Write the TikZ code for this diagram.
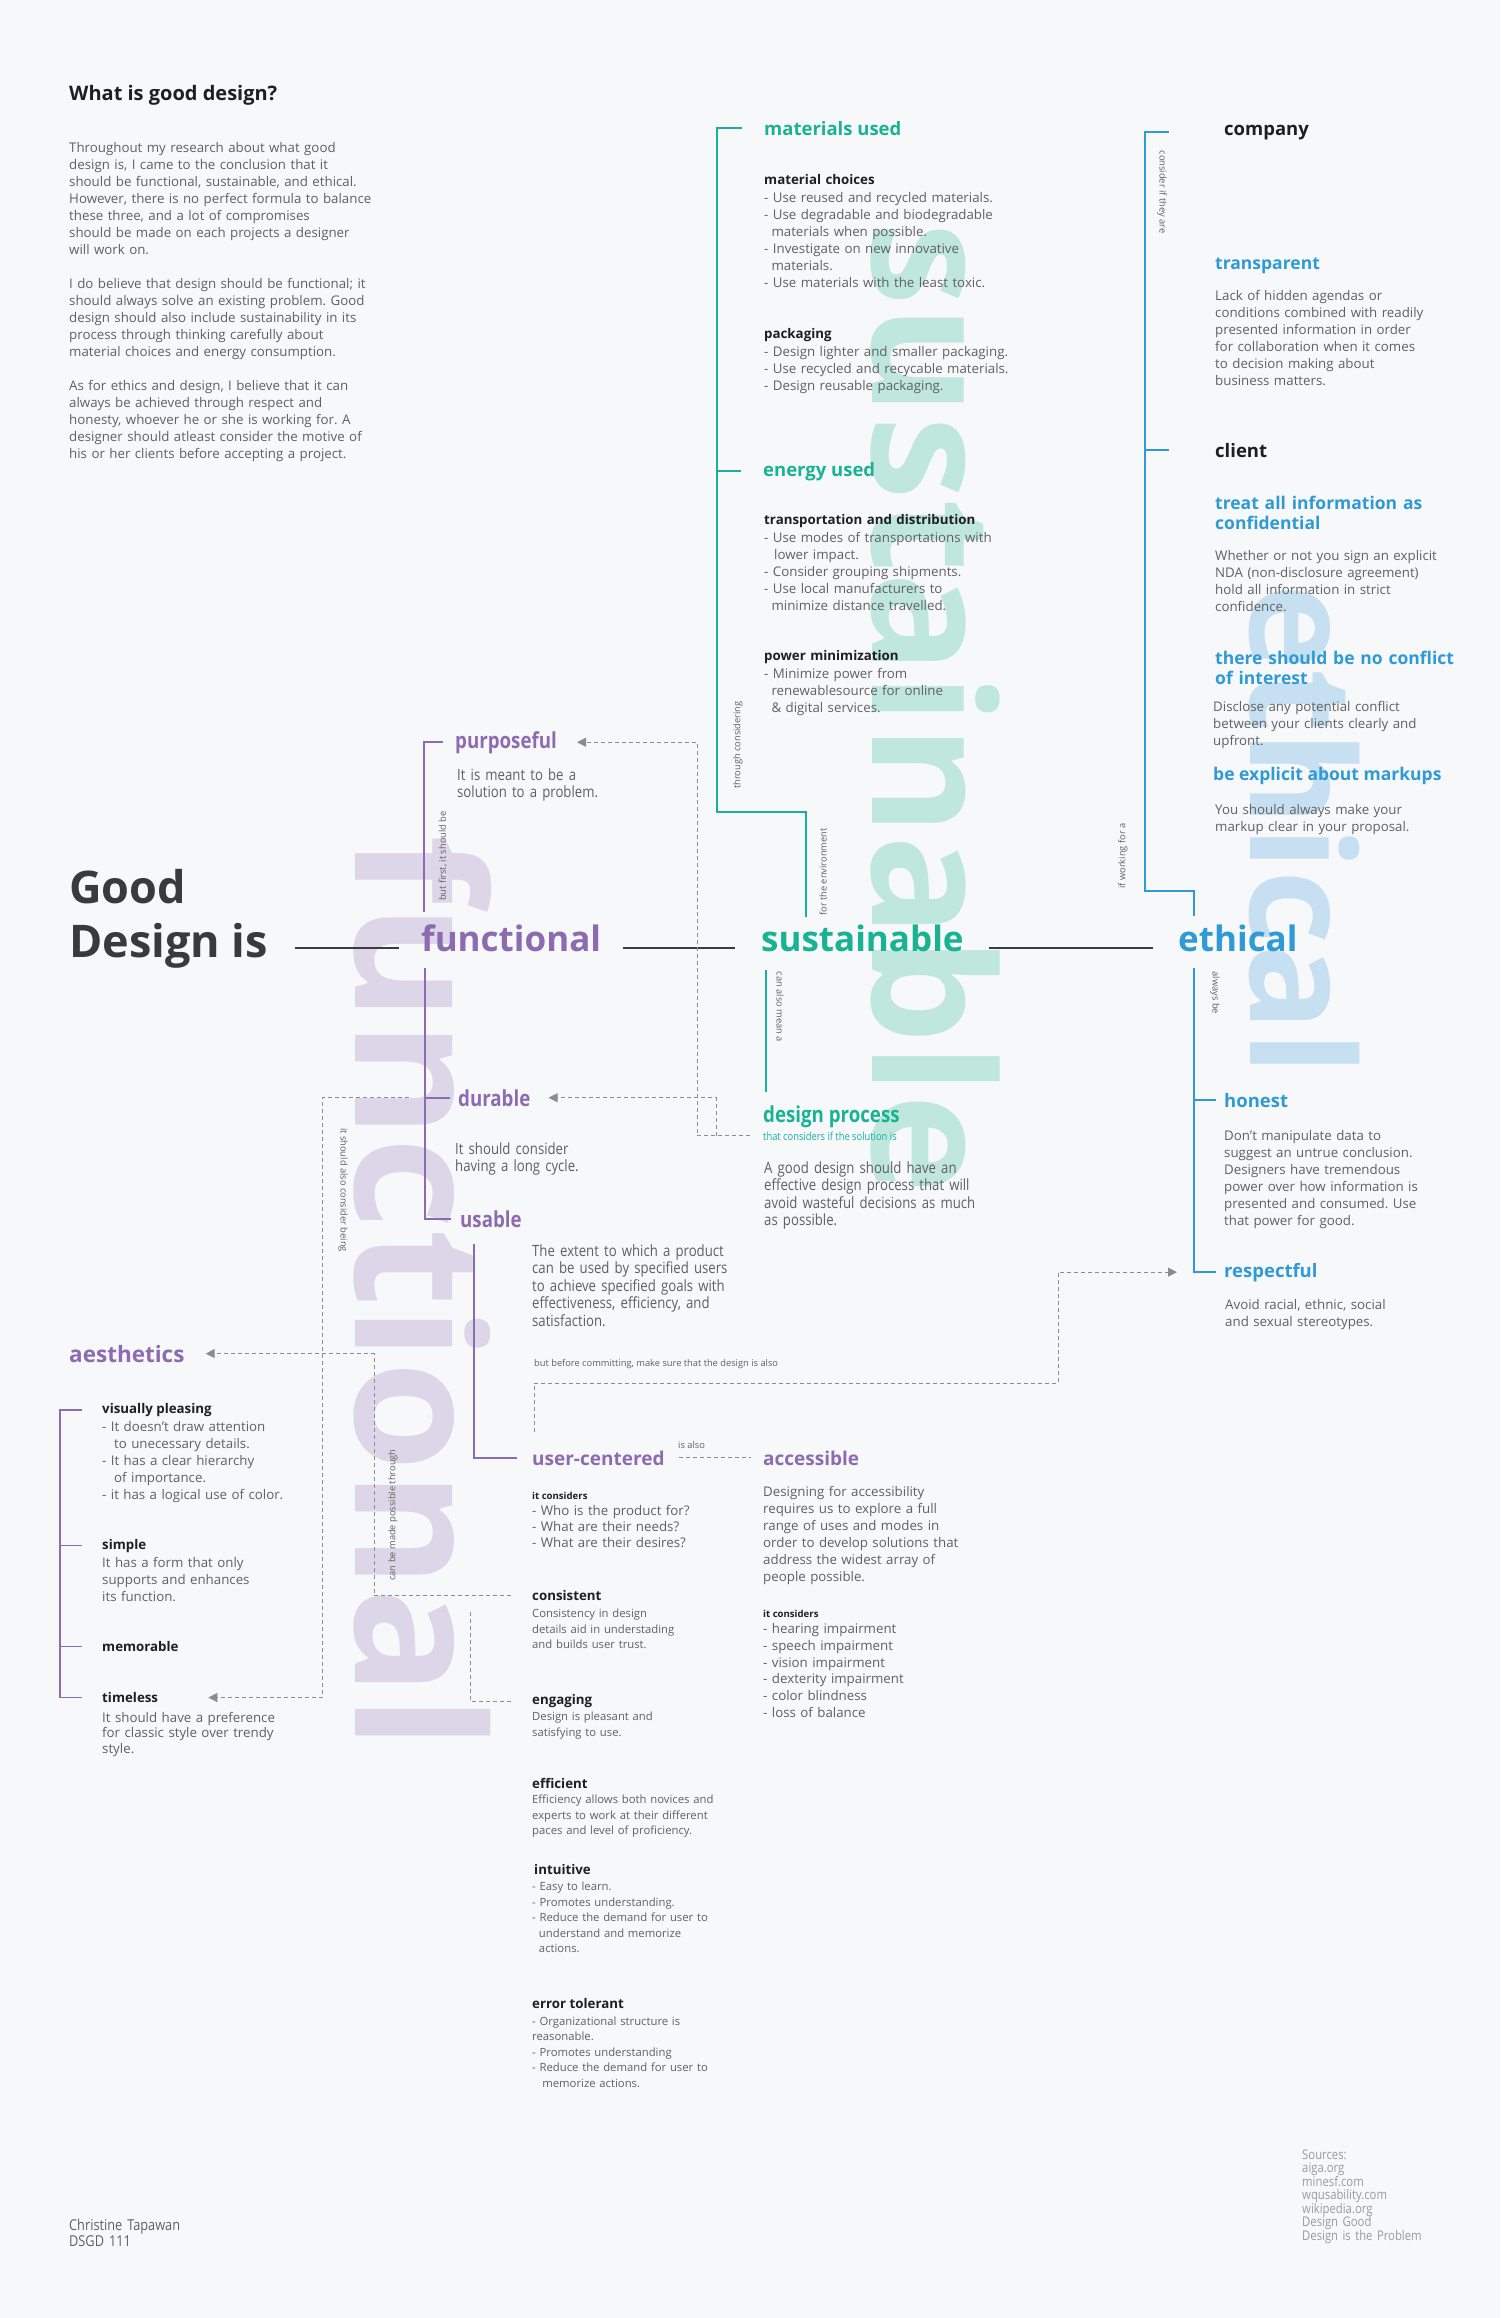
\documentclass[tikz,border=0pt]{standalone}
\usepackage{fontspec}
\setmainfont{Open Sans}
\newfontfamily\condfont{Open Sans}[FakeStretch=0.85]
\usepackage{xcolor}
\usetikzlibrary{positioning, arrows.meta, calc}
\definecolor{pagebg}{HTML}{F7F8FA}
\definecolor{funcpurple}{HTML}{8C6BB1}
\definecolor{susgreen}{HTML}{19B394}
\definecolor{ethblue}{HTML}{2F9AD6}
\definecolor{funcghost}{HTML}{DDD6E8}
\definecolor{susghost}{HTML}{BFE7DE}
\definecolor{ethghost}{HTML}{C6E0F1}
\definecolor{headdark}{HTML}{1F1F1F}
\definecolor{bigdark}{HTML}{3A3A3A}
\definecolor{graytext}{HTML}{606060}
\definecolor{lightgraytext}{HTML}{9A9A9A}
\definecolor{dashgray}{HTML}{8C8C8C}
\definecolor{linedark}{HTML}{3C3C3C}
\frenchspacing

\tikzset{
  txt/.style={anchor=base west, inner sep=0pt},
  bodytext/.style={txt, text width=330pt, align=left, text=graytext,
    font=\fontsize{13.3}{17}\selectfont},
  smalltext/.style={bodytext, font=\fontsize{11.3}{15.5}\selectfont},
  condtext/.style={bodytext, font=\condfont\fontsize{15.5}{17.5}\selectfont},
  itemhead/.style={txt, text=headdark, font=\fontsize{13.3}{16}\bfseries},
  tinyhead/.style={txt, text=headdark, font=\fontsize{9.6}{11}\bfseries},
  sechead/.style={txt, font=\fontsize{18.5}{20}\bfseries},
  ethhead/.style={sechead, text=ethblue, font=\fontsize{17.5}{20}\bfseries},
  ethheadwrap/.style={ethhead, text width=300pt, align=left},
  condhead/.style={txt, text=funcpurple, font=\condfont\fontsize{22}{24}\bfseries},
  mainword/.style={txt, font=\fontsize{35}{40}\bfseries},
  ghostword/.style={txt, rotate=-90},
  sidenote/.style={inner sep=0pt, text=graytext, font=\fontsize{9.3}{11}\selectfont},
  funcrule/.style={draw=funcpurple, line width=1.6pt},
  susrule/.style={draw=susgreen, line width=1.6pt},
  ethrule/.style={draw=ethblue, line width=1.6pt},
  mainline/.style={draw=linedark, line width=1.8pt},
  dashlink/.style={draw=dashgray, line width=1pt, dash pattern=on 4pt off 3pt},
  dasharrow/.style={dashlink, -{Triangle[length=9pt, width=9pt]}},
}

\begin{document}
\begin{tikzpicture}[x=1pt, y=-1pt]
  \fill[pagebg] (0,0) rectangle (1500,2318);
  \useasboundingbox (0,0) rectangle (1500,2318);

  % big background words
  \node[ghostword, text=funcghost, font=\fontsize{178}{178}\bfseries] (bigfunc) at (355,835) {functional};
  \node[ghostword, text=susghost, font=\fontsize{168}{168}\bfseries] (bigsust) at (872,222) {sustainable};
  \node[ghostword, text=ethghost, font=\fontsize{144}{144}\bfseries] (bigeth) at (1250,584) {ethical};

  % intro
  \node[txt, text=headdark, font=\fontsize{20}{24}\bfseries] (title) at (69,100) {What is good design?};
  \node[bodytext] (introa) at (69,152) {Throughout my research about what good\\
    design is, I came to the conclusion that it\\
    should be functional, sustainable, and ethical.\\
    However, there is no perfect formula to balance\\
    these three, and a lot of compromises\\
    should be made on each projects a designer\\
    will work on.};
  \node[bodytext] (introb) at (69,288) {I do believe that design should be functional; it\\
    should always solve an existing problem. Good\\
    design should also include sustainability in its\\
    process through thinking carefully about\\
    material choices and energy consumption.};
  \node[bodytext] (introc) at (69,390) {As for ethics and design, I believe that it can\\
    always be achieved through respect and\\
    honesty, whoever he or she is working for. A\\
    designer should atleast consider the motive of\\
    his or her clients before accepting a project.};

  % main row
  \node[txt, text=bigdark, font=\fontsize{45}{54}\bfseries] (gdgood) at (69,903) {Good};
  \node[txt, text=bigdark, font=\fontsize{45}{54}\bfseries] (gddesign) at (69,957) {Design is};
  \node[mainword, text=funcpurple] (functional) at (421,951) {functional};
  \node[mainword, text=susgreen] (sustainable) at (761,951) {sustainable};
  \node[mainword, text=ethblue] (ethical) at (1178,951) {ethical};
  \draw[mainline] ($(gddesign.east |- functional.mid west)+(27,0)$) -- ($(functional.mid west)+(-22,0)$);
  \draw[mainline] ($(functional.mid east)+(22,0)$) -- ($(sustainable.mid west)+(-26,0)$);
  \draw[mainline] ($(sustainable.mid east)+(25,0)$) -- ($(ethical.mid west)+(-25,0)$);

  % sustainable, upper branch
  \node[sechead, text=susgreen] (matused) at (764,135) {materials used};
  \node[bodytext] (matchoice) at (764,184.5) {{\bfseries\color{headdark}material choices}\\[0.5pt]
    - Use reused and recycled materials.\\
    - Use degradable and biodegradable\\
    \hspace*{0.55em}materials when possible.\\
    - Investigate on new innovative\\
    \hspace*{0.55em}materials.\\
    - Use materials with the least toxic.};
  \node[bodytext] (packaging) at (764,338.5) {{\bfseries\color{headdark}packaging}\\[0.5pt]
    - Design lighter and smaller packaging.\\
    - Use recycled and recycable materials.\\
    - Design reusable packaging.};
  \node[sechead, text=susgreen] (energy) at (763,476) {energy used};
  \node[bodytext] (transport) at (764,524.5) {{\bfseries\color{headdark}transportation and distribution}\\[1pt]
    - Use modes of transportations with\\
    \hspace*{0.75em}lower impact.\\
    - Consider grouping shipments.\\
    - Use local manufacturers to\\
    \hspace*{0.55em}minimize distance travelled.};
  \node[bodytext] (power) at (764,660.5) {{\bfseries\color{headdark}power minimization}\\[0.5pt]
    - Minimize power from\\
    \hspace*{0.55em}renewablesource for online\\
    \hspace*{0.55em}\& digital services.};
  \node[sidenote, rotate=90] (lblthrough) at (738,745) {through considering};
  \node[sidenote, rotate=90] (lblenv) at (823,872) {for the environment};
  \coordinate (sspine) at (717,812);
  \coordinate (sjoint) at (806,917);
  \draw[susrule] ($(matused.west)+(-22,0)$) -| (sspine) -| (sjoint);
  \draw[susrule] ($(energy.west)+(-22,0)$) -- (energy.west -| sspine);

  % sustainable, lower branch
  \node[sidenote, rotate=-90] (lblmean) at (780,1007) {can also mean a};
  \node[condhead, text=susgreen] (designproc) at (763,1122) {design process};
  \node[txt, text=susgreen, font=\condfont\fontsize{11}{13}\selectfont] (considers) at (763,1140) {that considers if the solution is};
  \node[condtext] (dpdesc) at (764,1173) {A good design should have an\\
    effective design process that will\\
    avoid wasteful decisions as much\\
    as possible.};
  \draw[susrule] ($(sustainable.base west)+(5,19)$) -- ($(designproc.north west)+(3,-13)$);

  % ethical, upper branch
  \node[sechead, text=headdark] (company) at (1224,135) {company};
  \node[ethhead] (transparent) at (1215,269) {transparent};
  \node[bodytext] (transdesc) at (1215,300.5) {Lack of hidden agendas or\\
    conditions combined with readily\\
    presented information in order\\
    for collaboration when it comes\\
    to decision making about\\
    business matters.};
  \node[sechead, text=headdark] (client) at (1215,457) {client};
  \node[ethheadwrap] (confidential) at (1215,509) {treat all information as\\confidential};
  \node[bodytext] (confdesc) at (1215,560.5) {Whether or not you sign an explicit\\
    NDA (non-disclosure agreement)\\
    hold all information in strict\\
    confidence.};
  \node[ethheadwrap] (conflict) at (1215,664) {there should be no conflict\\of interest};
  \node[bodytext] (conflictdesc) at (1213,711.5) {Disclose any potential conflict\\
    between your clients clearly and\\
    upfront.};
  \node[ethhead] (markups) at (1213,780) {be explicit about markups};
  \node[bodytext] (markupdesc) at (1215,814.5) {You should always make your\\
    markup clear in your proposal.};
  \node[sidenote, rotate=-90] (lblconsider) at (1162,192) {consider if they are};
  \node[sidenote, rotate=90] (lblworking) at (1123,856) {if working for a};
  \coordinate (espine) at (1145,891);
  \coordinate (ejoint) at (1194,916);
  \draw[ethrule] ($(company.west -| espine)+(24,0)$) -- (company.west -| espine) -- (espine) -| (ejoint);
  \draw[ethrule] ($(client.west -| espine)+(24,0)$) -- (client.west -| espine);

  % ethical, lower branch
  \node[sidenote, rotate=-90] (lblalways) at (1215,993) {always be};
  \node[ethhead, font=\fontsize{18.5}{20}\bfseries] (honest) at (1224,1107) {honest};
  \node[bodytext] (honestdesc) at (1224,1140.5) {Don’t manipulate data to\\
    suggest an untrue conclusion.\\
    Designers have tremendous\\
    power over how information is\\
    presented and consumed. Use\\
    that power for good.};
  \node[ethhead, font=\fontsize{18.5}{20}\bfseries] (respectful) at (1224,1277) {respectful};
  \node[bodytext] (respdesc) at (1225,1309.5) {Avoid racial, ethnic, social\\
    and sexual stereotypes.};
  \coordinate (ebot) at (1194,968);
  \draw[ethrule] (ebot) |- ($(respectful.west)+(-8,0)$);
  \draw[ethrule] ($(honest.west)+(-8,0)$) -- (honest.west -| ebot);

  % functional, upper branch
  \node[condhead] (purposeful) at (455,748) {purposeful};
  \node[condtext] (purpdesc) at (457,780) {It is meant to be a\\
    solution to a problem.};
  \node[sidenote, rotate=90] (lblfirst) at (443,856) {but first, it should be};
  \coordinate (fspine) at (424,912);
  \draw[funcrule] ($(purposeful.west)+(-12,0)$) -| (fspine);

  % functional, lower branch
  \node[condhead] (durable) at (458,1106) {durable};
  \node[condtext] (durdesc) at (455,1154) {It should consider\\
    having a long cycle.};
  \node[condhead] (usable) at (460,1227) {usable};
  \node[condtext] (usabdesc) at (532,1256) {The extent to which a product\\
    can be used by specified users\\
    to achieve specified goals with\\
    effectiveness, efficiency, and\\
    satisfaction.};
  \coordinate (fbot) at (425,968);
  \draw[funcrule] (fbot) |- ($(usable.west)+(-9,0)$);
  \draw[funcrule] ($(durable.west)+(-8,0)$) -- (durable.west -| fbot);

  % user-centered and accessible
  \node[sechead, text=funcpurple, font=\fontsize{19}{21}\bfseries] (usercentered) at (532,1465) {user-centered};
  \node[sechead, text=funcpurple, font=\fontsize{19}{21}\bfseries] (accessible) at (763,1465) {accessible};
  \node[sidenote, anchor=base west] (lblisalso) at (678,1448) {is also};
  \node[sidenote, anchor=base west] (lblbefore) at (534,1366) {but before committing, make sure that the design is also};
  \node[tinyhead] (ucconsider) at (532,1499.5) {it considers};
  \node[bodytext, font=\fontsize{13.3}{16}\selectfont] (uclist) at (532,1515.5) {- Who is the product for?\\
    - What are their needs?\\
    - What are their desires?};
  \node[bodytext] (accdesc) at (763,1496.5) {Designing for accessibility\\
    requires us to explore a full\\
    range of uses and modes in\\
    order to develop solutions that\\
    address the widest array of\\
    people possible.};
  \node[tinyhead] (accconsider) at (763,1617.5) {it considers};
  \node[bodytext, font=\fontsize{13.3}{16.8}\selectfont] (acclist) at (763,1633.5) {- hearing impairment\\
    - speech impairment\\
    - vision impairment\\
    - dexterity impairment\\
    - color blindness\\
    - loss of balance};
  \coordinate (ustart) at (474,1244);
  \draw[funcrule] (ustart) |- ($(usercentered.west)+(-15,0)$);
  \draw[dashlink] ($(usercentered.east)+(14,0)$) -- ($(accessible.west)+(-12,0)$);

  % usability qualities
  \node[itemhead] (consistent) at (532,1600.5) {consistent};
  \node[smalltext] (consdesc) at (532,1617.5) {Consistency in design\\
    details aid in understading\\
    and builds user trust.};
  \node[itemhead] (engaging) at (532,1704.5) {engaging};
  \node[smalltext] (engdesc) at (532,1720.5) {Design is pleasant and\\
    satisfying to use.};
  \node[itemhead] (efficient) at (532,1788.5) {efficient};
  \node[smalltext] (effdesc) at (532,1803.5) {Efficiency allows both novices and\\
    experts to work at their different\\
    paces and level of proficiency.};
  \node[itemhead] (intuitive) at (534,1874.5) {intuitive};
  \node[smalltext] (intdesc) at (532,1890.5) {- Easy to learn.\\
    - Promotes understanding.\\
    - Reduce the demand for user to\\
    \hspace*{0.6em}understand and memorize\\
    \hspace*{0.6em}actions.};
  \node[itemhead] (errortol) at (532,2008.5) {error tolerant};
  \node[smalltext] (errdesc) at (532,2025) {- Organizational structure is\\
    reasonable.\\
    - Promotes understanding\\
    - Reduce the demand for user to\\
    \hspace*{0.9em}memorize actions.};

  % aesthetics
  \node[txt, text=funcpurple, font=\fontsize{22.5}{24}\bfseries] (aesthetics) at (69,1362) {aesthetics};
  \node[itemhead] (visual) at (102,1413.5) {visually pleasing};
  \node[bodytext] (visdesc) at (102,1431.5) {- It doesn’t draw attention\\
    \hspace*{0.9em}to unecessary details.\\
    - It has a clear hierarchy\\
    \hspace*{0.9em}of importance.\\
    - it has a logical use of color.};
  \node[itemhead] (simple) at (102,1549) {simple};
  \node[bodytext] (simpdesc) at (102,1567) {It has a form that only\\
    supports and enhances\\
    its function.};
  \node[itemhead] (memorable) at (102,1651.5) {memorable};
  \node[itemhead] (timeless) at (102,1702.5) {timeless};
  \node[bodytext, font=\fontsize{13.3}{15.5}\selectfont] (timedesc) at (102,1722) {It should have a preference\\
    for classic style over trendy\\
    style.};
  \coordinate (aspine) at (60,1704);
  \draw[funcrule] ($(visual.west)+(-20,0)$) -- (visual.west -| aspine) |- ($(timeless.west)+(-20,0)$);
  \foreach \n in {simple, memorable}
    \draw[funcrule] (\n.west -| aspine) -- ++(22,0);
  \node[sidenote, rotate=-90] (lblalso) at (343,1190) {it should also consider being};
  \node[sidenote, rotate=90] (lblthroughb) at (393,1515) {can be made possible through};

  % dashed links
  \coordinate (pjog) at (697,1140);
  \coordinate (djog) at (716,1140);
  \draw[dasharrow] ($(considers.west)+(-13,0)$) -- (considers.west -| pjog) |- ($(purposeful.east)+(20,0)$);
  \draw[dasharrow] (considers.west -| djog) |- ($(durable.east)+(18,0)$);
  \coordinate (tjog) at (322,1100);
  \draw[dasharrow] ($(durable.west)+(-49,0)$) -- (durable.west -| tjog) |- ($(timeless.east)+(50,0)$);
  \coordinate (ajog) at (374,1600);
  \draw[dasharrow] ($(consistent.west)+(-21,0)$) -| (aesthetics.east -| ajog) -- ($(aesthetics.east)+(21,0)$);
  \coordinate (gjog) at (470,1610);
  \draw[dashlink] ($(engaging.west)+(-21,0)$) -| (gjog);
  \coordinate (bjog) at (1058,1383);
  \draw[dasharrow] ($(usercentered.north west)+(2,-18)$) |- (bjog) |- ($(respectful.west)+(-47,0)$);

  % footer
  \node[bodytext, font=\condfont\fontsize{15}{16}\selectfont] (author) at (69,2230) {Christine Tapawan\\DSGD 111};
  \node[bodytext, text=lightgraytext, font=\condfont\fontsize{13.3}{13.5}\selectfont] (sources) at (1302,2159) {Sources:\\
    aiga.org\\
    minesf.com\\
    wqusability.com\\
    wikipedia.org\\
    Design Good\\
    Design is the Problem};
\end{tikzpicture}
\end{document}
